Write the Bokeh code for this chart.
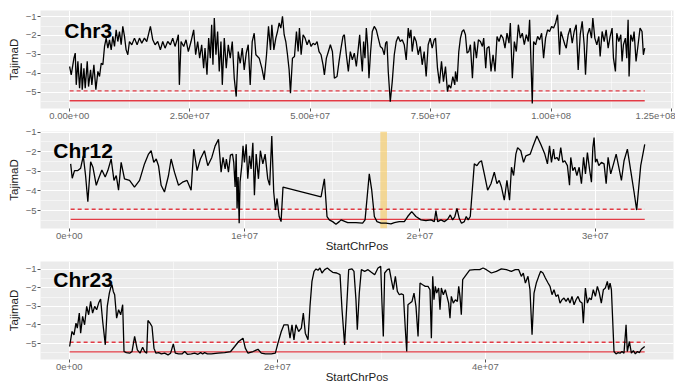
from bokeh.plotting import figure
from bokeh.layouts import column
from bokeh.models import FixedTicker, BoxAnnotation, Range1d, Label
from bokeh.embed import file_html
from bokeh.resources import INLINE

# ---------------- data (positions in Mb, TajimaD values) ----------------
chr3_pos_a = [0.07,0.41,0.97,1.24,1.45,1.79,2.14,2.49,2.69,3.04,
    3.31,3.73,4.0,4.42,4.69,5.11,5.52,5.94,6.28,6.63,
    6.97,7.32,7.66,8.01,8.35,8.70,9.04,9.39,9.73,10.08,
    10.42,10.77,11.11,11.46,11.80,12.15,12.49,12.98,13.53,14.08,
    14.57,15.05,15.60,16.08,16.43,16.84,17.33,17.81,18.36,18.91,
    19.40,19.88,20.43,20.99,21.47,21.95,22.37,22.64,22.85,23.20,
    23.75,24.23,24.71,25.27,25.82,26.23,26.65,27.06,27.48,27.89,
    28.17,28.58,28.93,29.27,29.55,29.82,30.10,30.44,30.79,31.13,
    31.48,31.76,32.17,32.58,33.0,33.41,33.83,34.24,34.65,35.07,
    35.48,35.90,36.31,36.73,37.14,37.55,37.97,38.38]
chr3_tajd_a = [-3.64,-4.08,-3.2,-2.93,-4.61,-3.37,-4.79,-3.47,-4.87,-3.73,
    -4.79,-3.37,-4.7,-3.82,-4.61,-3.55,-4.87,-3.9,-4.17,-3.47,
    -3.55,-2.58,-2.14,-2.67,-2.23,-2.76,-2.05,-2.58,-1.70,-2.32,
    -1.79,-2.49,-1.52,-2.05,-2.76,-3.02,-2.32,-2.49,-2.14,-2.49,
    -2.14,-2.41,-2.14,-2.32,-1.96,-1.52,-2.23,-2.49,-2.32,-2.76,
    -2.32,-2.67,-2.32,-2.49,-2.14,-2.58,-2.23,-1.96,-4.61,-2.32,
    -2.58,-2.23,-2.85,-2.32,-1.70,-3.02,-2.32,-3.2,-2.49,-3.73,
    -2.67,-4.08,-2.14,-3.2,-1.43,-3.55,-1.08,-3.02,-1.79,-3.9,
    -2.32,-4.61,-2.14,-3.73,-2.49,-3.2,-2.32,-4.26,-5.23,-2.85,
    -3.47,-2.67,-3.82,-2.93,-2.49,-4.61,-2.32,-1.88]
chr3_pos_b = [38.73,39.42,39.97,40.45,40.94,41.35,41.77,42.04,42.46,42.87,
    43.22,43.56,43.91,44.25,44.60,44.94,45.29,45.63,45.91,46.32,
    46.74,47.15,47.50,47.77,48.12,48.53,48.94,49.36,49.77,50.19,
    50.60,51.02,51.43,51.84,52.26,52.67,52.95,53.36,53.78,54.19,
    54.61,55.02,55.57,55.99,56.40,56.81,57.09,57.50,57.92,58.33,
    58.75,59.16,59.58,59.99,60.27,60.54,60.82,61.09,61.37,61.65,
    61.92,62.20,62.54,62.89,63.30,63.72,64.13,64.55,64.96,65.38,
    65.65,65.93,66.20,66.62,67.03,67.45,67.86,68.27,68.69,69.10,
    69.52,69.93,70.35,70.62,70.90,71.17,71.59,72.0,72.42,72.83,
    73.25,73.66,74.07,74.49,74.90,75.32,75.73,76.01,76.42,76.83,
    77.25,77.66,78.08,78.49,78.77,79.18,79.60,80.01]
chr3_tajd_b = [-3.02,-3.2,-3.73,-4.35,-3.02,-1.52,-2.76,-1.43,-2.76,-2.14,
    -1.79,-1.34,-1.61,-0.99,-1.96,-2.32,-3.02,-3.82,-5.05,-3.2,
    -3.11,-1.79,-2.85,-1.61,-3.02,-1.96,-2.14,-2.49,-2.23,-2.58,
    -2.41,-2.49,-2.32,-2.85,-3.02,-3.55,-4.08,-3.2,-2.85,-2.49,
    -2.85,-4.26,-4.17,-3.37,-2.67,-2.05,-1.96,-3.02,-3.9,-2.85,
    -3.29,-2.93,-3.64,-2.67,-1.96,-3.02,-3.9,-2.32,-3.2,-1.61,
    -2.49,-4.26,-2.85,-1.79,-1.52,-1.70,-2.14,-2.58,-2.67,-3.02,
    -2.41,-2.32,-3.9,-5.5,-4.44,-3.02,-2.32,-2.05,-2.32,-2.23,
    -2.49,-3.29,-1.61,-2.14,-1.70,-2.85,-2.05,-2.32,-3.02,-2.58,
    -3.55,-2.85,-4.17,-2.49,-2.14,-2.67,-2.23,-2.14,-3.73,-4.53,
    -3.37,-4.44,-3.64,-4.97,-4.61,-4.79,-4.17,-4.61]
chr3_pos_c = [80.15,80.49,80.84,81.18,81.53,81.87,82.22,82.56,82.91,83.25,
    83.67,84.08,84.50,84.91,85.33,85.74,86.01,86.43,86.70,87.12,
    87.53,87.95,88.36,88.78,89.19,89.61,90.02,90.43,90.85,91.26,
    91.54,91.95,92.37,92.78,93.20,93.61,94.02,94.44,94.85,95.27,
    95.54,95.82,96.09,96.37,96.78,97.20,97.61,98.03,98.44,98.85,
    99.27,99.68,100.10,100.51,100.93,101.34,101.76,102.03,102.45,102.86,
    103.14,103.55,103.96,104.38,104.79,105.21,105.62,106.04,106.45,106.86,
    107.14,107.55,107.97,108.38,108.66,109.07,109.49,109.90,110.18,110.59,
    111.01,111.42,111.84,112.25,112.66,112.94,113.35,113.63,114.05,114.46,
    114.73,115.01,115.42,115.70,115.98,116.18,116.53,116.94,117.22,117.63,
    118.05,118.46,118.87,119.15,119.43]
chr3_tajd_c = [-3.9,-4.44,-2.85,-2.14,-1.79,-1.70,-1.96,-2.93,-2.85,-2.49,
    -4.26,-2.32,-3.2,-2.23,-2.32,-2.58,-2.14,-3.73,-2.67,-2.58,
    -3.9,-3.02,-3.9,-2.05,-2.32,-1.96,-2.14,-2.67,-1.88,-2.41,
    -1.34,-4.26,-2.32,-2.85,-1.43,-2.14,-1.88,-2.49,-1.96,-2.32,
    -1.17,-3.37,-5.6,-2.32,-2.49,-2.05,-2.23,-1.88,-3.2,-2.14,
    -1.70,-1.79,-1.52,-1.61,-1.34,-0.9,-3.02,-1.79,-2.14,-2.49,
    -2.67,-1.96,-1.61,-2.41,-1.79,-1.43,-3.82,-1.96,-1.25,-2.49,
    -4.08,-1.96,-1.61,-2.14,-1.08,-2.14,-2.49,-2.05,-3.11,-1.79,
    -2.32,-1.70,-2.67,-2.05,-1.61,-3.2,-3.9,-1.88,-2.32,-1.96,
    -3.37,-2.49,-2.14,-3.2,-1.17,-4.17,-1.96,-2.32,-1.79,-3.37,
    -2.49,-1.61,-1.79,-3.02,-2.67]

chr12_pos_a = [0.08,0.17,0.30,0.49,0.65,0.80,0.93,1.06,1.22,1.35,
    1.54,1.67,1.86,2.05,2.20,2.39,2.55,2.68,2.81,2.96,
    3.15,3.44,3.72,4.01,4.29,4.52,4.67,4.82,4.96,5.09,
    5.24,5.43,5.66,5.81,6.00,6.23,6.46,6.72,6.95,7.10,
    7.29,7.48,7.71,7.90,8.13,8.32,8.51,8.66,8.77,8.89,
    8.96,9.08,9.19,9.31,9.38,9.46,9.52,9.57,9.63,9.69,
    9.74,9.84,9.91,9.99,10.09,10.18,10.28,10.37,10.47,10.56,
    10.66,10.79,10.90,11.04,11.17,11.32,11.43,11.55,11.66,11.76,
    11.85,11.97,12.08,12.19,14.36,14.55,14.70,14.83,15.02,15.21,
    15.40]
chr12_tajd_a = [-2.62,-3.35,-2.96,-2.96,-2.84,-2.21,-3.21,-4.55,-2.51,-2.79,
    -3.71,-3.38,-2.93,-3.29,-2.96,-2.37,-3.46,-3.21,-3.96,-2.54,
    -3.38,-3.46,-3.80,-3.46,-2.62,-2.12,-1.95,-2.54,-2.37,-2.71,
    -3.71,-4.05,-3.21,-2.37,-3.04,-3.71,-3.55,-3.46,-3.96,-1.87,
    -2.96,-2.37,-1.95,-2.71,-2.29,-1.70,-1.37,-3.04,-2.29,-2.88,
    -2.37,-3.04,-2.17,-2.12,-2.54,-3.80,-2.12,-4.89,-3.29,-5.64,
    -3.55,-2.71,-1.70,-2.54,-1.62,-3.38,-2.21,-2.88,-1.54,-4.22,
    -2.12,-3.38,-1.95,-2.62,-2.12,-3.38,-3.71,-1.20,-4.05,-4.97,
    -4.38,-5.30,-5.56,-3.80,-4.30,-3.38,-5.30,-5.47,-5.56,-5.69,
    -5.56]
chr12_pos_b = [15.50,15.88,16.35,16.73,16.87,17.11,17.25,17.40,17.55,17.78,
    18.06,18.35,18.54,18.82,19.11,19.30,19.53,19.77,20.06,20.34,
    20.63,20.82,20.91,21.01,21.20,21.39,21.58,21.73,21.86,21.99,
    22.11,22.24,22.37,22.53,22.64,22.75,22.87,23.10,23.25,23.38,
    23.51,23.67,23.86,24.05,24.24,24.39,24.52,24.65,24.81,24.96,
    25.11,25.22,25.34,25.47,25.57,25.75,25.91,26.04,26.29,26.42,
    26.67,26.89,27.12,27.27,27.39,27.50,27.62,27.69,27.81,27.92,
    28.03,28.15,28.26,28.41,28.53,28.60,28.72,28.83,28.95,29.08,
    29.21,29.33,29.44,29.55,29.67,29.78,29.86,29.93,30.01,30.09,
    30.20,30.35,30.50,30.62,30.73,30.88,31.04,31.19,31.34,31.49,
    31.64,31.83,32.02,32.21,32.36,32.59,32.82]
chr12_tajd_b = [-5.47,-5.61,-5.61,-5.64,-5.47,-3.13,-3.96,-5.30,-5.56,-5.64,
    -5.64,-5.67,-5.61,-5.56,-5.56,-5.30,-5.05,-5.30,-5.47,-5.51,
    -5.47,-5.56,-5.00,-5.56,-5.47,-5.56,-5.44,-5.22,-5.47,-5.30,
    -4.89,-5.39,-5.64,-5.56,-5.30,-5.47,-5.30,-2.62,-2.71,-2.54,
    -2.46,-3.13,-3.96,-3.63,-3.04,-3.63,-3.46,-3.80,-4.47,-3.46,
    -4.47,-2.79,-3.21,-2.12,-1.79,-1.95,-2.54,-2.21,-2.12,-1.79,
    -1.20,-1.62,-2.12,-2.62,-1.70,-2.54,-1.87,-2.37,-2.29,-2.46,
    -1.79,-2.54,-2.46,-2.71,-3.71,-2.29,-2.96,-2.79,-3.21,-2.79,
    -3.63,-2.29,-3.13,-2.04,-2.88,-3.55,-1.79,-1.28,-2.54,-2.37,
    -2.71,-2.54,-2.62,-3.63,-2.29,-3.13,-2.62,-2.12,-2.79,-3.46,
    -2.46,-1.87,-2.96,-4.05,-4.97,-2.71,-1.62]

chr23_pos_a = [0.03,0.26,0.45,0.64,0.77,0.96,1.09,1.28,1.47,1.67,
    1.86,2.05,2.24,2.44,2.63,2.82,3.01,3.21,3.46,3.65,
    3.85,3.97,4.10,4.23,4.36,4.55,4.74,4.94,5.13,5.26,
    5.48,5.80,6.03,6.28,6.54,6.80,7.05,7.24,7.44,7.56,
    7.76,7.95,8.14,8.33,8.59,8.85,9.17,9.49,9.74,10.0,
    10.19,10.51,10.83,11.09,11.35,11.73,12.05,12.37,12.63,12.82,
    13.01,13.27,13.65,14.30,14.94,15.51,15.90,16.28,16.70,16.92,
    17.18,17.66,18.14,18.46,18.85,19.42,19.81,20.06,20.38,20.64,
    21.03,21.22,21.41,21.60,21.79,22.05,22.31,22.50,22.69,22.95,
    23.14,23.33,23.53,23.72,23.91,24.10,24.29,24.55,24.81,25.06,
    25.32,25.71,26.03,26.22,26.47,26.67,26.86,27.18,27.37,27.56,
    27.69,27.88,28.08]
chr23_tajd_a = [-5.16,-4.35,-4.53,-3.90,-4.17,-3.36,-4.44,-3.54,-3.99,-3.0,
    -3.45,-2.73,-3.36,-3.0,-3.18,-2.82,-2.60,-3.81,-5.07,-3.0,
    -2.28,-2.01,-1.83,-2.19,-2.37,-3.63,-3.18,-3.45,-2.91,-5.43,
    -5.49,-5.52,-5.43,-4.62,-5.34,-5.52,-5.20,-5.43,-5.52,-3.76,
    -3.90,-4.08,-5.25,-5.52,-5.49,-5.56,-5.52,-5.61,-5.52,-5.02,
    -5.52,-5.56,-5.56,-5.43,-5.58,-5.56,-5.52,-5.58,-5.49,-5.56,
    -5.49,-5.56,-5.56,-5.52,-5.49,-5.43,-5.16,-4.89,-4.71,-5.25,
    -5.52,-5.43,-5.31,-5.52,-5.56,-5.56,-5.52,-4.98,-4.35,-3.99,
    -3.99,-4.71,-3.99,-4.80,-3.99,-4.35,-4.17,-3.36,-4.44,-4.80,
    -3.0,-1.65,-1.11,-0.98,-1.05,-0.93,-1.20,-1.02,-0.93,-1.05,
    -1.16,-1.20,-1.29,-3.18,-5.07,-3.0,-1.02,-0.98,-1.11,-2.64,
    -4.26,-2.28,-1.02]
chr23_pos_b = [28.40,28.72,29.04,29.36,29.68,29.94,30.06,30.19,30.32,30.58,
    30.77,30.96,31.15,31.35,31.54,31.73,31.92,32.12,32.31,32.44,
    32.56,32.76,32.95,33.14,33.33,33.53,33.72,33.97,34.23,34.49,
    34.68,34.81,34.94,35.06,35.19,35.32,35.51,35.64,35.77,35.96,
    36.15,36.35,36.47,36.60,36.73,36.92,37.12,37.31,37.44,37.56,
    37.69,37.82,38.17,38.49,38.97,39.46,39.78,40.10,40.58,41.06,
    41.54,42.02,42.50,42.88,43.21,43.46,43.65,43.85,44.10,44.29,
    44.49,44.68,44.90,45.13,45.32,45.54,45.77,46.03,46.22,46.41,
    46.60,46.79,46.99,47.18,47.37,47.56,47.76,47.95,48.14,48.33,
    48.53,48.72,48.91,49.10,49.30,49.42,49.62,49.81,50.00,50.19,
    50.38,50.58,50.77,50.96,51.15,51.35,51.54,51.73,51.86,51.99,
    52.12,52.37,52.56,52.76,52.95,53.14,53.33,53.53,53.65,53.85,
    54.04,54.23,54.42,54.62,54.81,55.00,55.32]
chr23_tajd_b = [-1.11,-1.02,-1.16,-1.29,-0.93,-0.84,-2.82,-4.62,-1.20,-1.02,
    -0.98,-1.56,-2.10,-1.38,-2.19,-2.37,-2.32,-2.37,-4.26,-5.43,
    -2.91,-2.82,-2.73,-2.28,-3.0,-4.62,-1.74,-1.83,-1.92,-1.92,
    -2.10,-4.71,-1.38,-2.64,-1.92,-2.28,-2.01,-3.18,-2.01,-2.37,
    -2.10,-2.55,-2.82,-3.63,-2.46,-2.82,-2.64,-2.73,-1.92,-2.46,
    -3.45,-1.56,-1.29,-1.05,-1.02,-1.02,-0.93,-1.02,-1.20,-1.11,
    -0.98,-1.02,-1.11,-1.02,-1.02,-1.38,-1.20,-1.74,-1.38,-2.10,
    -4.53,-2.28,-1.74,-1.38,-1.11,-1.20,-1.47,-1.74,-1.92,-2.37,
    -2.10,-2.46,-2.37,-2.82,-2.64,-2.55,-2.73,-2.55,-2.82,-2.46,
    -2.91,-2.64,-2.46,-2.73,-2.82,-3.90,-2.01,-2.82,-2.55,-2.64,
    -2.10,-2.46,-1.92,-2.28,-2.82,-2.10,-2.01,-1.65,-2.10,-1.74,
    -2.10,-5.43,-5.56,-5.49,-5.52,-5.43,-5.52,-3.99,-5.43,-4.89,
    -5.52,-5.38,-5.56,-5.43,-5.49,-5.31,-5.16]

# thresholds and highlighted region
thresh_dashed = -4.93
thresh_solid = -5.45
highlight_mb = [17.74, 18.12]

# tick labels
chr3_ticks_mb = [0, 25, 50, 75, 100, 125]
chr3_tick_labels = ["0.00e+00", "2.50e+07", "5.00e+07", "7.50e+07", "1.00e+08", "1.25e+08"]
chr12_ticks_mb = [0, 10, 20, 30]
chr12_tick_labels = ["0e+00", "1e+07", "2e+07", "3e+07"]
chr23_ticks_mb = [0, 20, 40]
chr23_tick_labels = ["0e+00", "2e+07", "4e+07"]
y_ticks = [-5, -4, -3, -2, -1]

MB = 1_000_000
FONT = "Liberation Sans"


def panel(name, pos, vals, xr, yr, ticks_mb, tick_labels, frame_h, top, bottom,
          xtitle, title_pos, band=None):
    assert len(pos) == len(vals), (name, len(pos), len(vals))
    x = [v * MB for v in pos]
    p = figure(frame_width=633, frame_height=frame_h,
               x_range=Range1d(xr[0] * MB, xr[1] * MB), y_range=Range1d(*yr),
               output_backend="svg", toolbar_location=None,
               min_border_left=40, min_border_right=2,
               min_border_top=top, min_border_bottom=bottom,
               background_fill_color="#EBEBEB", border_fill_color="white",
               outline_line_color=None)
    step = ticks_mb[1] - ticks_mb[0]
    minor = [(t + step / 2) * MB for t in ticks_mb]
    p.xaxis.ticker = FixedTicker(ticks=[t * MB for t in ticks_mb], minor_ticks=minor)
    p.xaxis.major_label_overrides = {t * MB: l for t, l in zip(ticks_mb, tick_labels)}
    p.yaxis.ticker = FixedTicker(ticks=y_ticks, minor_ticks=[t - 0.5 for t in y_ticks] + [-0.5])
    for ax in (p.xaxis[0], p.yaxis[0]):
        ax.axis_line_color = None
        ax.major_tick_line_color = "#555555"
        ax.major_tick_in = 0
        ax.major_tick_out = 3
        ax.minor_tick_line_color = None
        ax.major_label_text_font = FONT
        ax.major_label_text_font_size = "9.5px"
        ax.major_label_text_color = "#666666"
        ax.major_label_standoff = 0
        ax.axis_label_text_font = FONT
        ax.axis_label_text_font_size = "11.5px"
        ax.axis_label_text_font_style = "normal"
        ax.axis_label_text_color = "#222222"
        ax.axis_label_standoff = 3
    p.yaxis.axis_label = "TajimaD"
    if xtitle:
        p.xaxis.axis_label = "StartChrPos"
        p.xaxis.axis_label_standoff = -2
    for g in (p.xgrid[0], p.ygrid[0]):
        g.grid_line_color = "white"
        g.grid_line_width = 1.1
        g.minor_grid_line_color = "white"
        g.minor_grid_line_width = 0.5
    if band is not None:
        p.add_layout(BoxAnnotation(left=band[0] * MB, right=band[1] * MB,
                                   fill_color="#F7C85A", fill_alpha=0.6,
                                   line_color=None, level="underlay"))
    x0, x1 = min(x), max(x)
    p.line([x0, x1], [thresh_dashed, thresh_dashed], line_color="#E23B45",
           line_width=1.3, line_dash="4 3")
    p.line([x0, x1], [thresh_solid, thresh_solid], line_color="#E23B45", line_width=1.3)
    p.line(x, vals, line_color="black", line_width=1.3)
    p.add_layout(Label(x=title_pos[0] * MB, y=title_pos[1], text=name,
                       text_font=FONT, text_font_style="bold", text_font_size="21px",
                       text_color="black", text_baseline="alphabetic"))
    return p


p1 = panel("Chr3", chr3_pos_a + chr3_pos_b + chr3_pos_c,
           chr3_tajd_a + chr3_tajd_b + chr3_tajd_c,
           (-5.97, 125.4), (-5.86, -0.68), chr3_ticks_mb, chr3_tick_labels,
           98, 10, 16, False, (-1.04, -1.74))
p2 = panel("Chr12", chr12_pos_a + chr12_pos_b, chr12_tajd_a + chr12_tajd_b,
           (-1.64, 34.46), (-5.91, -0.97), chr12_ticks_mb, chr12_tick_labels,
           97, 7, 26, True, (-0.91, -1.95), band=highlight_mb)
p3 = panel("Chr23", chr23_pos_a + chr23_pos_b, chr23_tajd_a + chr23_tajd_b,
           (-2.77, 58.09), (-5.86, -0.58), chr23_ticks_mb, chr23_tick_labels,
           98, 7, 25, True, (-1.54, -1.54))

layout = column(p1, p2, p3)
open("out.html", "w").write(file_html(layout, INLINE))
